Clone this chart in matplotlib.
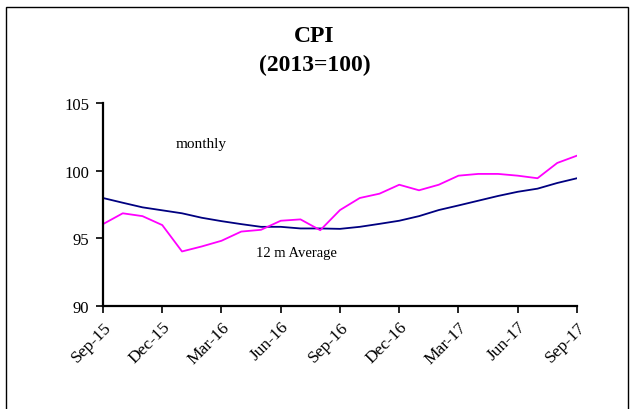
"""CPI (2013=100): monthly index and its 12-month average, Sep-15 .. Sep-17."""

import matplotlib.pyplot as plt
from matplotlib.patches import Rectangle

# Monthly points, Sep-15 .. Sep-17 (25 months)
month_labels = ["Sep-15", "Oct-15", "Nov-15", "Dec-15", "Jan-16", "Feb-16", "Mar-16",
                "Apr-16", "May-16", "Jun-16", "Jul-16", "Aug-16", "Sep-16", "Oct-16",
                "Nov-16", "Dec-16", "Jan-17", "Feb-17", "Mar-17", "Apr-17", "May-17",
                "Jun-17", "Jul-17", "Aug-17", "Sep-17"]

monthly = [96.05, 96.85, 96.64, 95.98, 94.03, 94.40, 94.82, 95.50, 95.63, 96.30,
           96.40, 95.60, 97.09, 97.98, 98.30, 98.96, 98.55, 98.96, 99.63, 99.76,
           99.76, 99.63, 99.44, 100.57, 101.11]

average_12m = [97.98, 97.63, 97.29, 97.07, 96.85, 96.52, 96.27, 96.05, 95.85, 95.85,
               95.73, 95.73, 95.70, 95.85, 96.07, 96.30, 96.64, 97.09, 97.43, 97.78,
               98.13, 98.44, 98.67, 99.09, 99.44]

y_ticks = [90, 95, 100, 105]

FONT = "Liberation Serif"

fig = plt.figure(figsize=(6.33, 4.10), dpi=100)
ax = fig.add_axes([103 / 633, 1 - 307 / 410, 474 / 633, 203 / 410])

# Frame around the whole chart (bottom edge runs off the picture)
fig.patches.append(Rectangle((6 / 633, -0.05), 622 / 633, 1 - 8 / 410 + 0.05,
                             transform=fig.transFigure, fill=False,
                             edgecolor="black", linewidth=1.0))

x = list(range(len(month_labels)))
ax.plot(x, average_12m, color="#000080", linewidth=1.3)
ax.plot(x, monthly, color="#FF00FF", linewidth=1.3)

ax.set_xlim(0, len(month_labels) - 1)
ax.set_ylim(90, 105)
ax.set_yticks(y_ticks)
ax.set_yticklabels([str(v) for v in y_ticks], fontfamily=FONT, fontsize=12)

tick_pos = x[::3]
ax.set_xticks(tick_pos)
ax.set_xticklabels([month_labels[i] for i in tick_pos], rotation=45, ha="right",
                   rotation_mode="anchor", fontfamily=FONT, fontsize=12.5)

for side in ("top", "right"):
    ax.spines[side].set_visible(False)
for side in ("left", "bottom"):
    ax.spines[side].set_linewidth(1.6)
ax.tick_params(axis="y", direction="out", length=5, width=1.2, pad=5)
ax.tick_params(axis="x", direction="out", length=5, width=1.2, pad=4)

ax.text(3.7, 101.75, "monthly", va="baseline", fontfamily=FONT, fontsize=11)
ax.text(7.75, 93.7, "12 m Average", va="baseline", fontfamily=FONT, fontsize=10.5)

fig.text(0.497, 1 - 37 / 410, "CPI", ha="center", va="center",
         fontfamily=FONT, fontsize=17, fontweight="bold")
fig.text(0.497, 1 - 65 / 410, "(2013=100)", ha="center", va="center",
         fontfamily=FONT, fontsize=17, fontweight="bold")

fig.savefig("out.png", dpi=100)
